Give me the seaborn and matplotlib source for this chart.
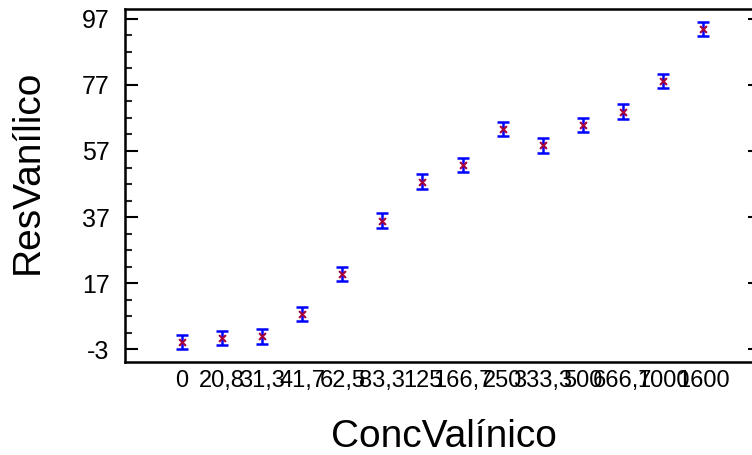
import numpy as np
import pandas as pd
import seaborn as sns
import matplotlib
matplotlib.use("Agg")
import matplotlib.pyplot as plt
from matplotlib.ticker import FixedLocator

conc_labels = ["0", "20,8", "31,3", "41,7", "62,5", "83,3", "125", "166,7",
               "250", "333,3", "500", "666,7", "1000", "1600"]
res_means = [-0.8, 0.4, 0.9, 7.7, 19.8, 35.9, 47.7, 52.8,
             63.7, 58.7, 64.9, 68.9, 78.2, 93.9]
res_err = [2.2] * 14
y_majors = [-3, 17, 37, 57, 77, 97]

sns.set_theme(style="white")
plt.rcParams['font.family'] = ['Liberation Sans', 'DejaVu Sans']
plt.rcParams['axes.unicode_minus'] = False

df = pd.DataFrame({"ConcValínico": conc_labels, "ResVanílico": res_means})

fig = plt.figure(figsize=(7.52, 4.55), dpi=100)
ax = fig.add_axes([125 / 752, 1 - 362 / 455, 627 / 752, 353 / 455])

ax.errorbar(df["ConcValínico"], df["ResVanílico"], yerr=res_err, fmt="none",
            ecolor="#0000ff", elinewidth=1.8, capsize=4, capthick=1.8, zorder=2)
sns.scatterplot(data=df, x="ConcValínico", y="ResVanílico", ax=ax, marker="x",
                color="#a8003c", s=24, linewidth=1.5, zorder=3)

ax.set_xlim(-1.42, 14.22)
ax.set_ylim(-6.9, 100.0)

ax.yaxis.set_major_locator(FixedLocator(y_majors))
ax.yaxis.set_minor_locator(FixedLocator(np.arange(-3, 98, 5)))
ax.tick_params(axis="y", which="major", direction="in", length=9, width=1.5,
               labelsize=18, pad=11, left=True, right=False, colors="black")
ax.tick_params(axis="y", which="minor", direction="in", length=5, width=1.5,
               left=True, right=False)
ax.tick_params(axis="x", length=0, labelsize=17, pad=6, colors="black")

# short marks on the right edge, majors only
sec = ax.secondary_yaxis("right")
sec.set_yticks(y_majors)
sec.tick_params(direction="in", length=3, width=1.5, labelright=False, colors="black")
sec.spines["right"].set_visible(False)
sec.yaxis.set_minor_locator(FixedLocator([]))

for side in ["left", "top", "bottom"]:
    ax.spines[side].set_visible(True)
    ax.spines[side].set_color("black")
    ax.spines[side].set_linewidth(1.8)
ax.spines["right"].set_visible(False)

ax.set_xlabel("ConcValínico", fontsize=28, color="black")
ax.set_ylabel("ResVanílico", fontsize=28, color="black")
ax.xaxis.set_label_coords((444 - 125) / 627, -(419 - 362) / 353)
ax.yaxis.label.set_va("center")
ax.yaxis.set_label_coords((28 - 125) / 627, (362 - 172) / 353)

fig.savefig("out.png", dpi=100)
